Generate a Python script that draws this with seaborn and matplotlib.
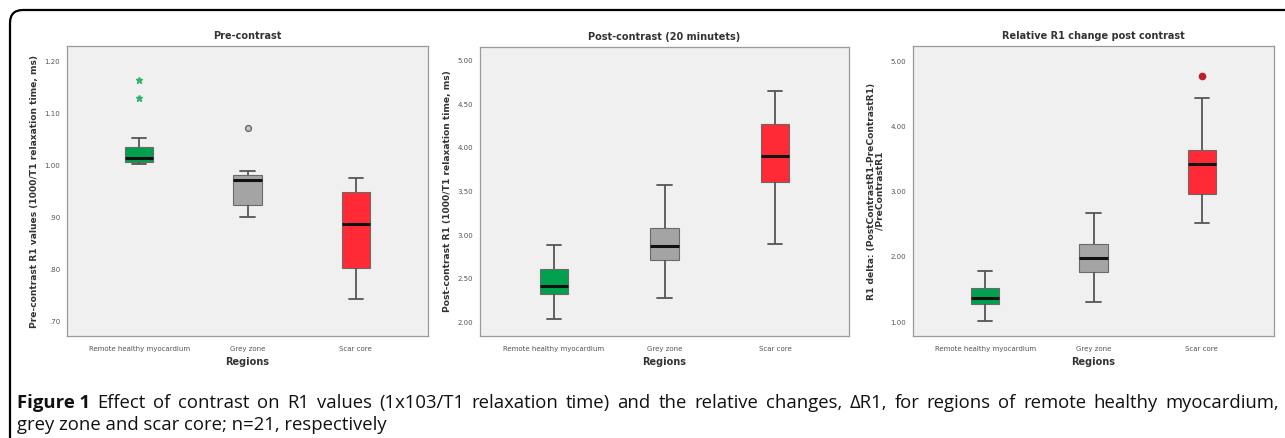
import numpy as np
import pandas as pd
import matplotlib
matplotlib.use("Agg")
import matplotlib.pyplot as plt
import seaborn as sns
from matplotlib.patches import FancyBboxPatch
from matplotlib.transforms import IdentityTransform

# ---------------- data ----------------
regions = ["Remote healthy myocardium", "Grey zone", "Scar core"]

pre_remote = [1.002, 1.004, 1.005, 1.007, 1.010, 1.013, 1.015, 1.022, 1.030, 1.036, 1.052, 1.129, 1.163]
pre_grey = [0.902, 0.910, 0.918, 0.925, 0.940, 0.960, 0.973, 0.976, 0.979, 0.981, 0.985, 0.990, 1.072]
pre_scar = [0.743, 0.770, 0.790, 0.804, 0.830, 0.860, 0.887, 0.910, 0.930, 0.950, 0.960, 0.970, 0.976]

post_remote = [2.04, 2.15, 2.25, 2.32, 2.36, 2.40, 2.42, 2.48, 2.55, 2.61, 2.70, 2.80, 2.89]
post_grey = [2.28, 2.45, 2.60, 2.71, 2.76, 2.82, 2.87, 2.93, 3.00, 3.08, 3.25, 3.40, 3.57]
post_scar = [2.90, 3.20, 3.45, 3.61, 3.70, 3.80, 3.91, 4.00, 4.15, 4.28, 4.40, 4.55, 4.65]

delta_remote = [1.02, 1.12, 1.20, 1.28, 1.31, 1.34, 1.37, 1.42, 1.47, 1.52, 1.60, 1.70, 1.78]
delta_grey = [1.31, 1.50, 1.65, 1.77, 1.85, 1.92, 1.98, 2.05, 2.12, 2.20, 2.35, 2.50, 2.67]
delta_scar = [2.51, 2.70, 2.85, 2.96, 3.10, 3.28, 3.42, 3.50, 3.58, 3.64, 3.90, 4.43, 4.77]

titles = ["Pre-contrast", "Post-contrast (20 minutets)", "Relative R1 change post contrast"]
ylabels = ["Pre-contrast R1 values (1000/T1 relaxation time, ms)",
           "Post-contrast R1 (1000/T1 relaxation time, ms)",
           "R1 delta: (PostContrastR1-PreContrastR1)\n/PreContrastR1"]
yticks_list = [[0.70, 0.80, 0.90, 1.00, 1.10, 1.20],
               [2.00, 2.50, 3.00, 3.50, 4.00, 4.50, 5.00],
               [1.00, 2.00, 3.00, 4.00, 5.00]]
yticklabels_list = [[".70", ".80", ".90", "1.00", "1.10", "1.20"],
                    ["2.00", "2.50", "3.00", "3.50", "4.00", "4.50", "5.00"],
                    ["1.00", "2.00", "3.00", "4.00", "5.00"]]
ylims = [(0.673, 1.229), (1.84, 5.16), (0.786, 5.23)]

caption_bold = "Figure 1"
caption_line1 = ("Effect of contrast on R1 values (1x103/T1 relaxation time) and the relative changes, "
                 "\u0394R1, for regions of remote healthy myocardium,")
caption_line2 = "grey zone and scar core; n=21, respectively"

palette = ["#00a04e", "#a4a4a4", "#ff2a36"]

panels = [
    (pre_remote, pre_grey, pre_scar),
    (post_remote, post_grey, post_scar),
    (delta_remote, delta_grey, delta_scar),
]

# ---------------- figure ----------------
sns.set_theme(style="white")
plt.rcParams["font.family"] = ["DejaVu Sans"]

W, H = 1285, 438
fig = plt.figure(figsize=(W / 100, H / 100), dpi=100)
fig.patch.set_facecolor("white")

# axes boxes in pixels: (left, right, top, bottom)
boxes = [(67, 428, 46, 336), (480, 849, 47, 336), (913, 1274, 46, 336)]

for i, (vals, (l, r, t, b)) in enumerate(zip(panels, boxes)):
    ax = fig.add_axes([l / W, (H - b) / H, (r - l) / W, (b - t) / H])
    df = pd.DataFrame({
        "Regions": np.repeat(regions, [len(v) for v in vals]),
        "value": np.concatenate(vals),
    })
    sns.boxplot(data=df, x="Regions", y="value", hue="Regions", order=regions,
                hue_order=regions, palette=palette, saturation=1, width=0.26,
                dodge=False, legend=False, ax=ax, linecolor="#555555",
                linewidth=1.1, fliersize=4,
                medianprops=dict(color="#111111", linewidth=2.2),
                whiskerprops=dict(color="#555555", linewidth=1.3),
                capprops=dict(color="#555555", linewidth=1.3),
                boxprops=dict(edgecolor="#6a6a6a", linewidth=0.8))
    # style outliers per region (SPSS style)
    fliers = [ln for ln in ax.lines if ln.get_linestyle() in ("None", "none", "") and len(ln.get_xdata()) > 0]
    for ln in fliers:
        x = np.mean(ln.get_xdata())
        k = int(round(x))
        if k == 0:
            ln.set_marker("*")
            ln.set_markersize(4.5)
            ln.set_markerfacecolor("#2fb36b")
            ln.set_markeredgecolor("#2fb36b")
        elif k == 1:
            ln.set_marker("o")
            ln.set_markersize(4.2)
            ln.set_markerfacecolor("#c8c8c8")
            ln.set_markeredgecolor("#6a6a6a")
            ln.set_markeredgewidth(1.0)
        else:
            ln.set_marker("o")
            ln.set_markersize(4.5)
            ln.set_markerfacecolor("#c0202a")
            ln.set_markeredgecolor("#c0202a")

    ax.set_facecolor("#f0f0f0")
    ax.set_xlim(-0.67, 2.67)
    ax.set_ylim(*ylims[i])
    ax.set_yticks(yticks_list[i])
    ax.set_yticklabels(yticklabels_list[i])
    ax.set_xticks(range(3))
    ax.set_xticklabels(regions)
    for sp in ax.spines.values():
        sp.set_visible(True)
        sp.set_color("#9a9a9a")
        sp.set_linewidth(0.9)
    ax.tick_params(axis="both", which="both", direction="out", length=3, width=0.9,
                   color="#555555", labelsize=5, labelcolor="#555555", pad=2)
    ax.tick_params(axis="x", length=4, pad=3)
    ax.set_xlabel("Regions", fontsize=7, fontweight="bold", color="#333333", labelpad=4)
    ax.set_ylabel(ylabels[i], fontsize=6.6, fontweight="bold", color="#333333",
                  labelpad=4, linespacing=1.0)
    ax.set_title(titles[i], fontsize=7, fontweight="bold", color="#333333", pad=5)
    ax.grid(False)

# rounded outer frame (runs past the right and bottom edges of the image)
frame = FancyBboxPatch((10, -30), W + 60, (H - 10) + 30,
                       boxstyle="round,pad=0,rounding_size=13",
                       transform=IdentityTransform(), fill=False,
                       edgecolor="black", linewidth=1.6, clip_on=False)
fig.patches.append(frame)

# caption (justified first line, like the journal layout)
capfont = ["Open Sans", "DejaVu Sans"]
renderer = fig.canvas.get_renderer()

x_left, x_right = 17, 1279
# size the caption so that line 2 has the reference width
probe = fig.text(0, 0, caption_line2, fontsize=10, family=capfont)
pw = probe.get_window_extent(renderer).width
probe.remove()
cap_fs = 10 * (385.0 - x_left) / pw

y1, y2 = H - 408, H - 430

items = [(caption_bold, "bold")] + [(w, "normal") for w in caption_line1.split(" ")]
arts = []
total = 0.0
for txt, wt in items:
    a = fig.text(0, y1 / H, txt, fontsize=cap_fs, fontweight=wt, family=capfont,
                 va="baseline", ha="left", color="#111111")
    wpx = a.get_window_extent(renderer).width
    arts.append((a, wpx))
    total += wpx
gap = max(2.0, (x_right - x_left - total) / (len(items) - 1))
xc = x_left
for a, wpx in arts:
    a.set_x(xc / W)
    xc += wpx + gap

fig.text(x_left / W, y2 / H, caption_line2, fontsize=cap_fs, family=capfont,
         va="baseline", ha="left", color="#111111")

fig.savefig("out.png", dpi=100, facecolor="white")
